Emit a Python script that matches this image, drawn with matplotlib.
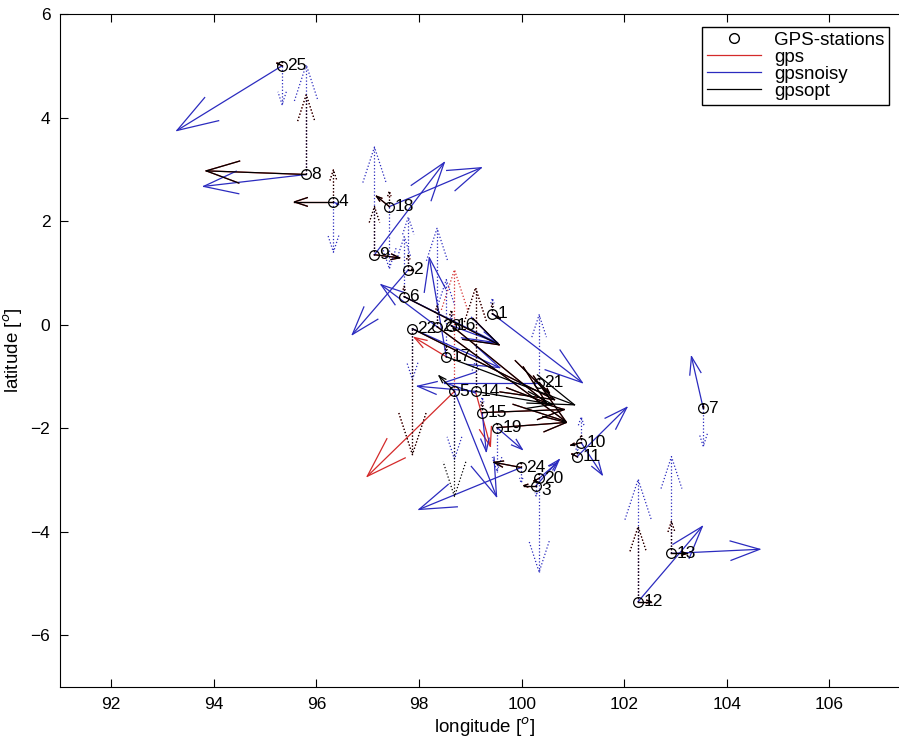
import matplotlib
matplotlib.use("Agg")
import matplotlib.pyplot as plt
from matplotlib.lines import Line2D

plt.rcParams['font.family'] = ['Liberation Sans', 'DejaVu Sans']

# station positions (longitude, latitude)
station = list(range(1, 26))
lon = [99.43, 97.79, 100.28, 96.33, 98.69, 97.71, 103.54, 95.80, 97.13, 101.16,
       101.08, 102.27, 102.92, 99.10, 99.23, 98.63, 98.53, 97.42, 99.52, 100.34,
       100.34, 97.87, 98.35, 99.99, 95.33]
lat = [0.21, 1.06, -3.11, 2.37, -1.29, 0.54, -1.62, 2.90, 1.35, -2.28,
       -2.55, -5.35, -4.42, -1.29, -1.70, -0.02, -0.62, 2.28, -1.99, -2.97,
       -1.12, -0.08, -0.04, -2.76, 5.00]

# horizontal displacement (east, north), plotted in degrees
noisy_e = [1.75, -1.09, 0.45, 0.10, 0.82, 1.81, -0.23, -2.00, 1.36, 0.41,
           0.97, 1.25, 1.72, -1.13, 0.08, 0.90, -0.33, 1.79, 0.49, 0.35,
           -1.85, 1.70, -1.09, -1.99, -2.05]
noisy_n = [-1.33, -1.25, 0.50, -0.05, -2.03, -0.89, 1.00, -0.23, 1.78, -0.62,
           0.95, 1.45, 0.08, 0.10, -0.75, -0.33, 1.91, 0.75, -0.42, 0.30,
           0.00, -0.75, 0.81, -0.81, -1.25]
opt_e = [0.15, 0.10, -0.24, -0.76, -0.30, 1.85, 0.00, -1.95, 0.49, -0.20,
         -0.10, 0.25, 0.30, 1.50, 1.60, 1.85, 2.50, -0.25, 1.35, -0.10,
         0.20, 2.77, 2.51, -0.53, -0.10]
opt_n = [-0.10, 0.00, 0.00, 0.00, 0.30, -0.93, 0.05, 0.07, -0.06, -0.05,
         0.05, 0.00, 0.00, -0.25, 0.06, -1.49, -0.93, 0.20, 0.10, -0.05,
         -0.20, -1.37, -1.83, 0.10, 0.05]
gps_e = [0.15, 0.10, -0.24, -0.76, -1.70, 1.85, 0.00, -1.95, 0.49, -0.20,
         -0.10, 0.25, 0.30, 0.29, 1.60, 1.85, -0.62, -0.25, 1.35, -0.10,
         0.20, 2.77, 2.51, -0.53, -0.10]
gps_n = [-0.10, 0.00, 0.00, 0.00, -1.64, -0.93, 0.05, 0.07, -0.06, -0.05,
         0.05, 0.00, 0.00, -1.06, 0.06, -1.49, 0.37, 0.20, 0.10, -0.05,
         -0.20, -1.37, -1.83, 0.10, 0.05]

# vertical displacement, drawn as north pointing dotted arrows
noisy_up = [0.30, 1.02, -0.20, -0.97, -1.31, 1.16, -0.73, 2.12, 2.08, 0.50,
            0.20, 2.36, 1.87, 0.60, 0.30, 0.20, 1.49, -1.20, -0.85, -1.81,
            1.31, -0.98, 1.90, -0.30, -0.75]
opt_up = [0.20, 0.30, 0.10, 0.62, -2.03, 0.20, 0.10, 1.54, 0.93, 0.15,
          0.10, 1.45, 0.62, 2.00, 0.20, 0.30, 0.20, 0.30, 0.10, 0.10,
          0.10, -2.43, 0.40, 0.10, 0.10]
gps_up = [0.20, 0.30, 0.10, 0.62, 2.35, 0.20, 0.10, 1.54, 0.93, 0.15,
          0.10, 1.45, 0.62, 2.00, 0.20, 0.30, 0.20, 0.30, 0.10, 0.10,
          0.10, -2.43, 0.40, 0.10, 0.10]

RED = '#d42a2a'
BLUE = '#2b2bbf'


def mquiver(ax, x, y, u, v, color, ls='-'):
    """matlab style quiver: shaft plus an open two line head"""
    alpha, beta = 0.33, 0.33
    for xi, yi, ui, vi in zip(x, y, u, v):
        tx, ty = xi + ui, yi + vi
        ax.plot([xi, tx], [yi, ty], color=color, ls=ls, lw=0.9)
        hx = [tx - alpha * (ui + beta * vi), tx, tx - alpha * (ui - beta * vi)]
        hy = [ty - alpha * (vi - beta * ui), ty, ty - alpha * (vi + beta * ui)]
        ax.plot(hx, hy, color=color, ls=ls, lw=0.9)


fig = plt.figure(figsize=(8.99, 7.42), dpi=100)
ax = fig.add_axes([60 / 899, 55 / 742, 850 / 899, 673 / 742])

zeros = [0.0] * len(lon)
mquiver(ax, lon, lat, gps_e, gps_n, RED)
mquiver(ax, lon, lat, zeros, gps_up, RED, ':')
mquiver(ax, lon, lat, noisy_e, noisy_n, BLUE)
mquiver(ax, lon, lat, zeros, noisy_up, BLUE, ':')
mquiver(ax, lon, lat, opt_e, opt_n, 'k')
mquiver(ax, lon, lat, zeros, opt_up, 'k', ':')

ax.plot(lon, lat, 'o', mfc='none', mec='k', ms=7, mew=0.9, ls='none')
for s, x, y in zip(station, lon, lat):
    dy = -0.1 if s == 3 else 0.0  # 3 sits right under 20
    ax.text(x + 0.1, y + dy, str(s), ha='left', va='center', fontsize=12.5)

ax.set_xlim(91, 107.57)
ax.set_ylim(-7, 6)
ax.set_xticks(range(92, 107, 2))
ax.set_yticks(range(-6, 7, 2))
ax.tick_params(direction='in', length=6, top=True, right=True, labelsize=12.5,
               pad=7)
ax.set_xlabel(r'longitude [$^o$]', fontsize=13.5, labelpad=3)
ax.set_ylabel(r'latitude [$^o$]', fontsize=13.5, labelpad=4)

handles = [Line2D([], [], marker='o', mfc='none', mec='k', ls='none', ms=7),
           Line2D([], [], color=RED, lw=0.9),
           Line2D([], [], color=BLUE, lw=0.9),
           Line2D([], [], color='k', lw=0.9)]
ax.legend(handles, ['GPS-stations', 'gps', 'gpsnoisy', 'gpsopt'],
          loc='upper left', bbox_to_anchor=(642 / 850, 0.981), fontsize=13.5,
          fancybox=False, edgecolor='k', framealpha=1, borderpad=0.25,
          labelspacing=0.0, handlelength=2.9, handletextpad=0.7,
          borderaxespad=0)

fig.savefig('out.png', dpi=100)
